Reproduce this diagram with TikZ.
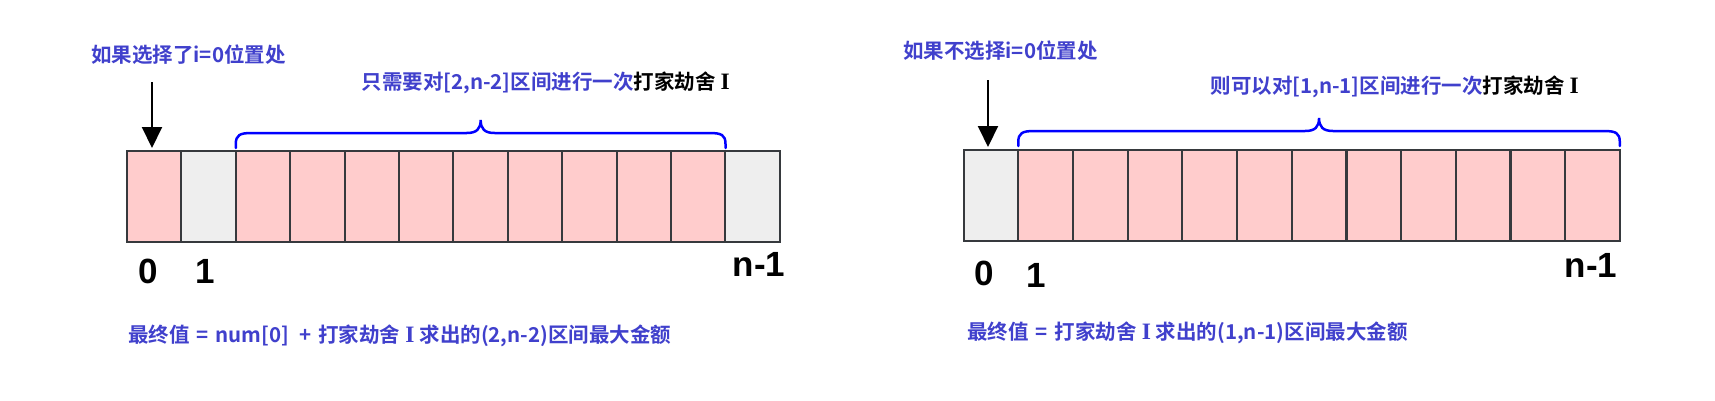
\documentclass[tikz,border=0pt]{standalone}
\usepackage{fontspec}
\newfontfamily\cjk{Noto Sans CJK SC}[BoldFont=* Bold]
\newfontfamily\lab{Liberation Sans}
\newfontfamily\romI{Liberation Serif}
\newcommand{\RomI}{{\romI\bfseries\fontsize{23.5pt}{24pt}\selectfont I}}
\usetikzlibrary{arrows.meta,calc}
\definecolor{tblue}{HTML}{4040CC}
\definecolor{pinkc}{HTML}{FFCCCC}
\definecolor{grayc}{HTML}{EEEEEE}
\definecolor{cellb}{HTML}{36393D}
\definecolor{bracec}{HTML}{0000FF}
\tikzset{
  cell/.style={draw=cellb, line width=2pt, minimum width=54.5pt, minimum height=91pt, anchor=north west, inner sep=0pt, outer sep=0pt},
  txt/.style={font=\cjk\bfseries\fontsize{20.5pt}{24pt}\selectfont, text=tblue, inner sep=0pt},
  idx/.style={font=\lab\bfseries\fontsize{35pt}{40pt}\selectfont, inner sep=0pt},
  arr/.style={line width=2pt, -{Triangle[width=20pt,length=21pt]}},
  brace/.style={draw=bracec, line width=2.5pt, line cap=round}
}
\begin{document}
\begin{tikzpicture}[x=1pt,y=-1pt]
\useasboundingbox (0,0) rectangle (1715,400);
% left array
\foreach \i/\c in {0/pinkc,1/grayc,2/pinkc,3/pinkc,4/pinkc,5/pinkc,6/pinkc,7/pinkc,8/pinkc,9/pinkc,10/pinkc,11/grayc}
  \node[cell, fill=\c] (L\i) at ({127+54.4*\i},151) {};
% right array
\foreach \i/\c in {0/grayc,1/pinkc,2/pinkc,3/pinkc,4/pinkc,5/pinkc,6/pinkc,7/pinkc,8/pinkc,9/pinkc,10/pinkc,11/pinkc}
  \node[cell, fill=\c] (R\i) at ({963.6+54.7*\i},150) {};

% left texts
\node[txt, anchor=west] (lt1) at (91,55) {如果选择了i=0位置处};
\node[txt, anchor=east] (lt2) at (730,83) {只需要对[2,n-2]区间进行一次\textcolor{black}{打家劫舍\hspace{5pt}\RomI}};
\node[txt, anchor=west] (lb) at (128,336) {最终值\hspace{7pt}=\hspace{7pt}num[0]\hspace{10pt}+\hspace{7pt}打家劫舍\hspace{5pt}\RomI\hspace{5pt}求出的(2,n-2)区间最大金额};
% right texts
\node[txt, anchor=west] (rt1) at (903,51) {如果不选择i=0位置处};
\node[txt, anchor=east] (rt2) at (1579,87) {则可以对[1,n-1]区间进行一次\textcolor{black}{打家劫舍\hspace{5pt}\RomI}};
\node[txt, anchor=west] (rb) at (967,333) {最终值\hspace{7pt}=\hspace{7pt}打家劫舍\hspace{5pt}\RomI\hspace{5pt}求出的(1,n-1)区间最大金额};

% index labels
\node[idx] (l0) at (148,271) {0};
\node[idx] (l1) at (205,271) {1};
\node[idx] (ln) at (759,264) {n-1};
\node[idx] (r0) at (984,273) {0};
\node[idx] (r1) at (1036,275) {1};
\node[idx] (rn) at (1591,265) {n-1};

% arrows
\coordinate (la) at (152,82);
\draw[arr] (la) -- ([yshift=3pt]la |- L0.north);
\coordinate (ra) at (988,80);
\draw[arr] (ra) -- ([yshift=3pt]ra |- R0.north);

% left brace
\coordinate (lbA) at ([yshift=3pt]L2.north west);
\coordinate (lbB) at ([yshift=3pt]L10.north east);
\path let \p1=(lbA), \p2=(lbB) in
  [brace] (\x1,\y1) -- (\x1,{\y1+4}) .. controls (\x1,{\y1+13}) and ({\x1+4},{\y1+15}) .. ({\x1+16},{\y1+15})
  -- ({(\x1+\x2)/2-14},{\y1+15}) .. controls ({(\x1+\x2)/2-4},{\y1+15}) and ({(\x1+\x2)/2},{\y1+19}) .. ({(\x1+\x2)/2},{\y1+28})
  .. controls ({(\x1+\x2)/2},{\y1+19}) and ({(\x1+\x2)/2+4},{\y1+15}) .. ({(\x1+\x2)/2+14},{\y1+15})
  -- ({\x2-16},{\y1+15}) .. controls ({\x2-4},{\y1+15}) and (\x2,{\y1+13}) .. (\x2,{\y1+4}) -- (\x2,\y1);
% right brace
\coordinate (rbA) at ([yshift=4pt]R1.north west);
\coordinate (rbB) at ([yshift=4pt]R11.north east);
\path let \p1=(rbA), \p2=(rbB) in
  [brace] (\x1,\y1) -- (\x1,{\y1+4}) .. controls (\x1,{\y1+13}) and ({\x1+4},{\y1+15}) .. ({\x1+16},{\y1+15})
  -- ({(\x1+\x2)/2-14},{\y1+15}) .. controls ({(\x1+\x2)/2-4},{\y1+15}) and ({(\x1+\x2)/2},{\y1+19}) .. ({(\x1+\x2)/2},{\y1+28})
  .. controls ({(\x1+\x2)/2},{\y1+19}) and ({(\x1+\x2)/2+4},{\y1+15}) .. ({(\x1+\x2)/2+14},{\y1+15})
  -- ({\x2-16},{\y1+15}) .. controls ({\x2-4},{\y1+15}) and (\x2,{\y1+13}) .. (\x2,{\y1+4}) -- (\x2,\y1);
\end{tikzpicture}
\end{document}
